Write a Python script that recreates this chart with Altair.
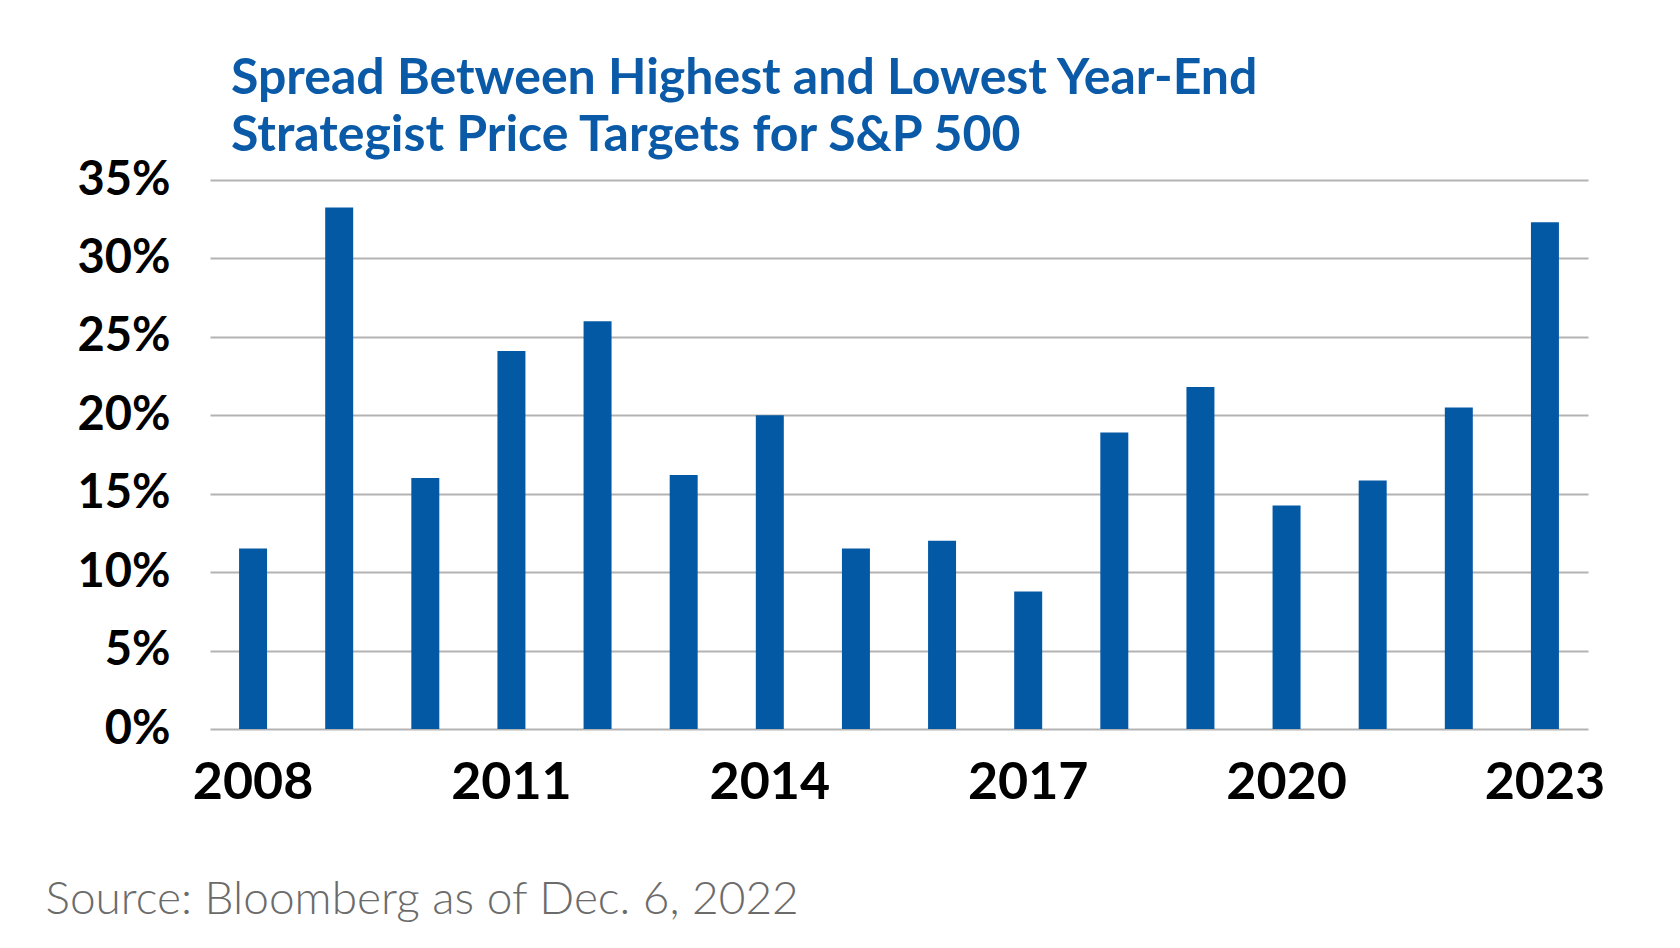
import altair as alt
import pandas as pd

years = [str(y) for y in range(2008, 2024)]
spread = [11.5, 33.25, 16.0, 24.1, 26.0, 16.2, 20.0, 11.5, 12.0, 8.77,
          18.9, 21.8, 14.25, 15.85, 20.5, 32.3]
y_ticks = [0, 5, 10, 15, 20, 25, 30, 35]
x_labels = ["2008", "2011", "2014", "2017", "2020", "2023"]
title_lines = ["Spread Between Highest and Lowest Year-End",
               "Strategist Price Targets for S&P 500"]
source = "Source: Bloomberg as of Dec. 6, 2022"

df = pd.DataFrame({"year": years, "spread": spread})

bars = alt.Chart(df).mark_bar(color="#0459a5").encode(
    x=alt.X("year:O",
            sort=years,
            scale=alt.Scale(paddingInner=0.675, paddingOuter=0.3375),
            axis=alt.Axis(values=x_labels, labelAngle=0, ticks=False, domain=False,
                          labelFont="Lato", labelFontWeight="bold", labelFontSize=52,
                          labelColor="#000000", labelPadding=28,
                          title=source, titleFont="Lato", titleFontWeight=300,
                          titleFontSize=46, titleColor="#6b6b6b",
                          titleAnchor="start", titleAlign="left",
                          titleX=-165, titleY=184, titleBaseline="alphabetic")),
    y=alt.Y("spread:Q",
            scale=alt.Scale(domain=[0, 35], nice=False),
            axis=alt.Axis(values=y_ticks, labelExpr="datum.value + '%'",
                          ticks=False, domain=False, grid=True,
                          gridColor="#b3b3b3", gridWidth=2,
                          labelFont="Lato", labelFontWeight="bold", labelFontSize=47,
                          labelColor="#000000", labelPadding=40, title=None)),
)

chart = bars.properties(
    width=1378,
    height=549,
    autosize=alt.AutoSizeParams(type="none"),
    padding={"left": 202, "top": 172, "right": 84, "bottom": 211},
    title=alt.TitleParams(text=title_lines, anchor="start", frame="group",
                          dx=21, offset=-5, font="Lato", fontWeight="bold",
                          fontSize=50, color="#0a5aa8", lineHeight=57),
).configure(
    background="#ffffff",
    view=alt.ViewConfig(strokeWidth=0, stroke="transparent"),
)

chart.save("out.html", embed_options={"renderer": "svg", "actions": False})
